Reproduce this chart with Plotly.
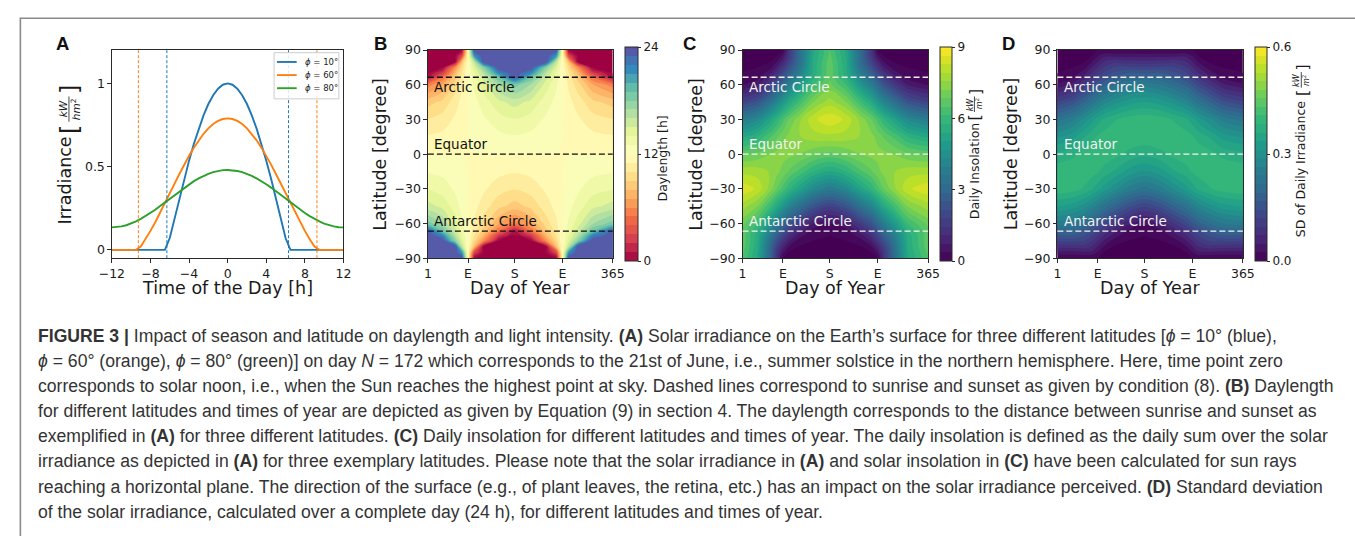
import plotly.graph_objects as go

W, H = 1355, 536

# ---------------- Panel A data ----------------
hours = [-12, -11.5, -11, -10.5, -10, -9.5, -9, -8.5, -8, -7.5, -7, -6.5, -6, -5.5, -5, -4.5,
         -4, -3.5, -3, -2.5, -2, -1.5, -1, -0.5, 0, 0.5, 1, 1.5, 2, 2.5, 3, 3.5, 4, 4.5, 5,
         5.5, 6, 6.5, 7, 7.5, 8, 8.5, 9, 9.5, 10, 10.5, 11, 11.5, 12]
irr_10 = [0, 0, 0, 0, 0, 0, 0, 0, 0, 0, 0, 0,
          0.071, 0.192, 0.311, 0.427, 0.536, 0.637, 0.728, 0.808, 0.876, 0.929, 0.968, 0.992, 1.000,
          0.992, 0.968, 0.929, 0.876, 0.808, 0.728, 0.637, 0.536, 0.427, 0.311, 0.192, 0.071,
          0, 0, 0, 0, 0, 0, 0, 0, 0, 0, 0, 0]
irr_60 = [0, 0, 0, 0, 0, 0,
          0.020, 0.064, 0.114, 0.166, 0.222, 0.280, 0.339, 0.398, 0.456, 0.512, 0.565, 0.614, 0.658,
          0.697, 0.730, 0.756, 0.775, 0.786, 0.790,
          0.786, 0.775, 0.756, 0.730, 0.697, 0.658, 0.614, 0.565, 0.512, 0.456, 0.398, 0.339, 0.280,
          0.222, 0.166, 0.114, 0.064, 0.020,
          0, 0, 0, 0, 0, 0]
irr_80 = [0.135, 0.136, 0.141, 0.148, 0.158, 0.171, 0.186, 0.203, 0.221, 0.241, 0.263, 0.285, 0.308,
          0.330, 0.352, 0.374, 0.394, 0.413, 0.429, 0.444, 0.457, 0.467, 0.474, 0.479, 0.480,
          0.479, 0.474, 0.467, 0.457, 0.444, 0.429, 0.413, 0.394, 0.374, 0.352, 0.330, 0.308,
          0.285, 0.263, 0.241, 0.221, 0.203, 0.186, 0.171, 0.158, 0.148, 0.141, 0.136, 0.135]
sunrise_10 = [-6.3, 6.3]
sunrise_60 = [-9.25, 9.25]
legend_labels = ["<i>ϕ</i> = 10°", "<i>ϕ</i> = 60°", "<i>ϕ</i> = 80°"]
series_colors = ["#1f77b4", "#ff7f0e", "#2ca02c"]

# ---------------- Panels B-D grid ----------------
days = [1, 30, 55, 68, 80, 92, 110, 140, 172, 204, 234, 254, 266, 278, 296, 325, 365]
day_tick_vals = [1, 80, 172, 266, 365]
day_tick_text = ["1", "E", "S", "E", "365"]
lats = [-90, -85, -80, -75, -70, -66.5, -60, -45, -30, -15, 0, 15, 30, 45, 60, 66.5, 70, 75, 80, 85, 90]
lat_ticks = [-90, -60, -30, 0, 30, 60, 90]

daylength = [
    [24, 24, 24, 24, 12, 0, 0, 0, 0, 0, 0, 0, 12, 24, 24, 24, 24],
    [24, 24, 24, 21, 12, 3, 0, 0, 0, 0, 0, 3, 12, 21, 24, 24, 24],
    [24, 24, 24, 15.97, 12, 8.03, 0, 0, 0, 0, 0, 8.03, 12, 15.97, 24, 24, 24],
    [24, 24, 17.83, 14.54, 12, 9.46, 6.17, 0, 0, 0, 6.17, 9.46, 12, 14.54, 17.83, 24, 24],
    [24, 21.48, 16.08, 13.85, 12, 10.15, 7.92, 2.52, 0, 2.52, 7.92, 10.15, 12, 13.85, 16.08, 21.48, 24],
    [23.48, 18.98, 15.36, 13.55, 12, 10.45, 8.64, 5.02, 0.52, 5.02, 8.64, 10.45, 12, 13.55, 15.36, 18.98, 23.48],
    [18.49, 16.88, 14.50, 13.16, 12, 10.84, 9.50, 7.12, 5.51, 7.12, 9.50, 10.84, 12, 13.16, 14.50, 16.88, 18.49],
    [15.43, 14.69, 13.42, 12.67, 12, 11.33, 10.58, 9.31, 8.57, 9.31, 10.58, 11.33, 12, 12.67, 13.42, 14.69, 15.43],
    [13.93, 13.53, 12.82, 12.39, 12, 11.61, 11.18, 10.47, 10.07, 10.47, 11.18, 11.61, 12, 12.39, 12.82, 13.53, 13.93],
    [12.89, 12.71, 12.38, 12.18, 12, 11.82, 11.62, 11.29, 11.11, 11.29, 11.62, 11.82, 12, 12.18, 12.38, 12.71, 12.89],
    [12, 12, 12, 12, 12, 12, 12, 12, 12, 12, 12, 12, 12, 12, 12, 12, 12],
    [11.11, 11.29, 11.62, 11.82, 12, 12.18, 12.38, 12.71, 12.89, 12.71, 12.38, 12.18, 12, 11.82, 11.62, 11.29, 11.11],
    [10.07, 10.47, 11.18, 11.61, 12, 12.39, 12.82, 13.53, 13.93, 13.53, 12.82, 12.39, 12, 11.61, 11.18, 10.47, 10.07],
    [8.57, 9.31, 10.58, 11.33, 12, 12.67, 13.42, 14.69, 15.43, 14.69, 13.42, 12.67, 12, 11.33, 10.58, 9.31, 8.57],
    [5.51, 7.12, 9.50, 10.84, 12, 13.16, 14.50, 16.88, 18.49, 16.88, 14.50, 13.16, 12, 10.84, 9.50, 7.12, 5.51],
    [0.52, 5.02, 8.64, 10.45, 12, 13.55, 15.36, 18.98, 23.48, 18.98, 15.36, 13.55, 12, 10.45, 8.64, 5.02, 0.52],
    [0, 2.52, 7.92, 10.15, 12, 13.85, 16.08, 21.48, 24, 21.48, 16.08, 13.85, 12, 10.15, 7.92, 2.52, 0],
    [0, 0, 6.17, 9.46, 12, 14.54, 17.83, 24, 24, 24, 17.83, 14.54, 12, 9.46, 6.17, 0, 0],
    [0, 0, 0, 8.03, 12, 15.97, 24, 24, 24, 24, 24, 15.97, 12, 8.03, 0, 0, 0],
    [0, 0, 0, 3, 12, 21, 24, 24, 24, 24, 24, 21, 12, 3, 0, 0, 0],
    [0, 0, 0, 0, 12, 24, 24, 24, 24, 24, 24, 24, 12, 0, 0, 0, 0],
]

insolation = [
    [6.49, 5.32, 2.97, 1.42, 0, 0, 0, 0, 0, 0, 0, 0, 0, 1.42, 2.97, 5.32, 6.49],
    [6.57, 5.37, 3.01, 1.46, 0.46, 0, 0, 0, 0, 0, 0, 0, 0.46, 1.46, 3.01, 5.37, 6.57],
    [6.68, 5.47, 3.06, 1.79, 0.94, 0.33, 0, 0, 0, 0, 0, 0.33, 0.94, 1.79, 3.06, 5.47, 6.68],
    [6.74, 5.51, 3.31, 2.25, 1.45, 0.78, 0.23, 0, 0, 0, 0.23, 0.78, 1.45, 2.25, 3.31, 5.51, 6.74],
    [6.74, 5.53, 3.72, 2.75, 1.96, 1.27, 0.64, 0.02, 0, 0.02, 0.64, 1.27, 1.96, 2.75, 3.72, 5.53, 6.74],
    [6.75, 5.72, 4.07, 3.12, 2.35, 1.64, 0.98, 0.20, 0, 0.20, 0.98, 1.64, 2.35, 3.12, 4.07, 5.72, 6.75],
    [6.95, 6.13, 4.67, 3.80, 3.06, 2.35, 1.65, 0.71, 0.33, 0.71, 1.65, 2.35, 3.06, 3.80, 4.67, 6.13, 6.95],
    [7.75, 7.20, 6.12, 5.40, 4.75, 4.10, 3.40, 2.33, 1.80, 2.33, 3.40, 4.10, 4.75, 5.40, 6.12, 7.20, 7.75],
    [8.55, 8.20, 7.40, 6.84, 6.36, 5.83, 5.23, 4.25, 3.72, 4.25, 5.23, 5.83, 6.36, 6.84, 7.40, 8.20, 8.55],
    [7.80, 7.75, 7.52, 7.32, 7.08, 6.80, 6.43, 5.76, 5.36, 5.76, 6.43, 6.80, 7.08, 7.32, 7.52, 7.75, 7.80],
    [6.73, 6.93, 7.21, 7.31, 7.33, 7.31, 7.21, 6.93, 6.73, 6.93, 7.21, 7.31, 7.33, 7.31, 7.21, 6.93, 6.73],
    [5.36, 5.76, 6.43, 6.80, 7.08, 7.32, 7.52, 7.75, 7.80, 7.75, 7.52, 7.32, 7.08, 6.80, 6.43, 5.76, 5.36],
    [3.72, 4.25, 5.23, 5.83, 6.36, 6.84, 7.40, 8.20, 8.55, 8.20, 7.40, 6.84, 6.36, 5.83, 5.23, 4.25, 3.72],
    [1.80, 2.33, 3.40, 4.10, 4.75, 5.40, 6.12, 7.20, 7.75, 7.20, 6.12, 5.40, 4.75, 4.10, 3.40, 2.33, 1.80],
    [0.33, 0.71, 1.65, 2.35, 3.06, 3.80, 4.67, 6.13, 6.95, 6.13, 4.67, 3.80, 3.06, 2.35, 1.65, 0.71, 0.33],
    [0, 0.20, 0.98, 1.64, 2.35, 3.12, 4.07, 5.72, 6.75, 5.72, 4.07, 3.12, 2.35, 1.64, 0.98, 0.20, 0],
    [0, 0.02, 0.64, 1.27, 1.96, 2.75, 3.72, 5.53, 6.74, 5.53, 3.72, 2.75, 1.96, 1.27, 0.64, 0.02, 0],
    [0, 0, 0.23, 0.78, 1.45, 2.25, 3.31, 5.51, 6.74, 5.51, 3.31, 2.25, 1.45, 0.78, 0.23, 0, 0],
    [0, 0, 0, 0.33, 0.94, 1.79, 3.06, 5.47, 6.68, 5.47, 3.06, 1.79, 0.94, 0.33, 0, 0, 0],
    [0, 0, 0, 0, 0.46, 1.46, 3.01, 5.37, 6.57, 5.37, 3.01, 1.46, 0.46, 0, 0, 0, 0],
    [0, 0, 0, 0, 0, 1.42, 2.97, 5.32, 6.49, 5.32, 2.97, 1.42, 0, 0, 0, 0, 0],
]

sd_irradiance = [
    [0, 0, 0, 0, 0, 0, 0, 0, 0, 0, 0, 0, 0, 0, 0, 0, 0],
    [0.039, 0.040, 0.042, 0.042, 0.023, 0, 0, 0, 0, 0, 0, 0, 0.023, 0.042, 0.042, 0.040, 0.039],
    [0.080, 0.082, 0.086, 0.071, 0.048, 0.022, 0, 0, 0, 0, 0, 0.022, 0.048, 0.071, 0.086, 0.082, 0.080],
    [0.123, 0.126, 0.120, 0.097, 0.073, 0.047, 0.018, 0, 0, 0, 0.018, 0.047, 0.073, 0.097, 0.120, 0.126, 0.123],
    [0.167, 0.170, 0.147, 0.123, 0.099, 0.073, 0.044, 0.004, 0, 0.004, 0.044, 0.073, 0.099, 0.123, 0.147, 0.170, 0.167],
    [0.199, 0.195, 0.167, 0.143, 0.119, 0.092, 0.062, 0.018, 0, 0.018, 0.062, 0.092, 0.119, 0.143, 0.167, 0.195, 0.199],
    [0.252, 0.240, 0.210, 0.185, 0.160, 0.134, 0.103, 0.054, 0.029, 0.054, 0.103, 0.134, 0.160, 0.185, 0.210, 0.240, 0.252],
    [0.337, 0.325, 0.299, 0.277, 0.254, 0.229, 0.199, 0.152, 0.124, 0.152, 0.199, 0.229, 0.254, 0.277, 0.299, 0.325, 0.337],
    [0.402, 0.396, 0.379, 0.364, 0.347, 0.326, 0.300, 0.257, 0.231, 0.257, 0.300, 0.326, 0.347, 0.364, 0.379, 0.396, 0.402],
    [0.399, 0.402, 0.401, 0.394, 0.387, 0.375, 0.360, 0.328, 0.310, 0.328, 0.360, 0.375, 0.387, 0.394, 0.401, 0.402, 0.399],
    [0.367, 0.378, 0.394, 0.399, 0.401, 0.399, 0.394, 0.378, 0.367, 0.378, 0.394, 0.399, 0.401, 0.399, 0.394, 0.378, 0.367],
    [0.310, 0.328, 0.360, 0.375, 0.387, 0.394, 0.401, 0.402, 0.399, 0.402, 0.401, 0.394, 0.387, 0.375, 0.360, 0.328, 0.310],
    [0.231, 0.257, 0.300, 0.326, 0.347, 0.364, 0.379, 0.396, 0.402, 0.396, 0.379, 0.364, 0.347, 0.326, 0.300, 0.257, 0.231],
    [0.124, 0.152, 0.199, 0.229, 0.254, 0.277, 0.299, 0.325, 0.337, 0.325, 0.299, 0.277, 0.254, 0.229, 0.199, 0.152, 0.124],
    [0.029, 0.054, 0.103, 0.134, 0.160, 0.185, 0.210, 0.240, 0.252, 0.240, 0.210, 0.185, 0.160, 0.134, 0.103, 0.054, 0.029],
    [0, 0.018, 0.062, 0.092, 0.119, 0.143, 0.167, 0.195, 0.199, 0.195, 0.167, 0.143, 0.119, 0.092, 0.062, 0.018, 0],
    [0, 0.004, 0.044, 0.073, 0.099, 0.123, 0.147, 0.170, 0.167, 0.170, 0.147, 0.123, 0.099, 0.073, 0.044, 0.004, 0],
    [0, 0, 0.018, 0.047, 0.073, 0.097, 0.120, 0.126, 0.123, 0.126, 0.120, 0.097, 0.073, 0.047, 0.018, 0, 0],
    [0, 0, 0, 0.022, 0.048, 0.071, 0.086, 0.082, 0.080, 0.082, 0.086, 0.071, 0.048, 0.022, 0, 0, 0],
    [0, 0, 0, 0, 0.023, 0.042, 0.042, 0.040, 0.039, 0.040, 0.042, 0.042, 0.023, 0, 0, 0, 0],
    [0, 0, 0, 0, 0, 0, 0, 0, 0, 0, 0, 0, 0, 0, 0, 0, 0],
]

circle_lats = [66.56, 0, -66.56]
circle_names = ["Arctic Circle", "Equator", "Antarctic Circle"]
circle_label_lats = [58.5, 8.5, -57.5]

caption_lines = [
    "<b>FIGURE 3 |</b> Impact of season and latitude on daylength and light intensity. <b>(A)</b> Solar irradiance on the Earth’s surface for three different latitudes [<i>ϕ</i> = 10° (blue),",
    "<i>ϕ</i> = 60° (orange), <i>ϕ</i> = 80° (green)] on day <i>N</i> = 172 which corresponds to the 21st of June, i.e., summer solstice in the northern hemisphere. Here, time point zero",
    "corresponds to solar noon, i.e., when the Sun reaches the highest point at sky. Dashed lines correspond to sunrise and sunset as given by condition (8). <b>(B)</b> Daylength",
    "for different latitudes and times of year are depicted as given by Equation (9) in section 4. The daylength corresponds to the distance between sunrise and sunset as",
    "exemplified in <b>(A)</b> for three different latitudes. <b>(C)</b> Daily insolation for different latitudes and times of year. The daily insolation is defined as the daily sum over the solar",
    "irradiance as depicted in <b>(A)</b> for three exemplary latitudes. Please note that the solar irradiance in <b>(A)</b> and solar insolation in <b>(C)</b> have been calculated for sun rays",
    "reaching a horizontal plane. The direction of the surface (e.g., of plant leaves, the retina, etc.) has an impact on the solar irradiance perceived. <b>(D)</b> Standard deviation",
    "of the solar irradiance, calculated over a complete day (24 h), for different latitudes and times of year.",
]

spectral = ["#9e0142", "#d53e4f", "#f46d43", "#fdae61", "#fee08b", "#ffffbf",
            "#e6f598", "#abdda4", "#66c2a5", "#3288bd", "#5e4fa2"]

# ---------------- helpers ----------------
def px(x):
    return x / W


def py(y):
    return 1 - y / H


MPL = "DejaVu Sans"
AX_COLOR = "#2a2a2a"
TXT = "#1a1a1a"

fig = go.Figure()
annotations = []
shapes = []


def ann(x, y, text, size, color=TXT, family=MPL, angle=0, xanchor="center", yanchor="middle"):
    annotations.append(dict(x=px(x), y=py(y), xref="paper", yref="paper", text=text,
                            showarrow=False, textangle=angle, xanchor=xanchor, yanchor=yanchor,
                            font=dict(family=family, size=size, color=color)))


def rot_fraction(cx, cy, num, den, fs, half, bfs):
    # rotated (reading bottom-to-top) bracketed fraction
    ann(cx - fs * 0.55, cy, num, fs, angle=-90)
    ann(cx + fs * 0.6, cy, den, fs, angle=-90)
    shapes.append(dict(type="line", xref="paper", yref="paper",
                       x0=px(cx), x1=px(cx), y0=py(cy - half), y1=py(cy + half),
                       line=dict(color=TXT, width=0.8)))
    ann(cx + 1, cy + half + bfs * 0.32, "[", bfs, angle=-90)
    ann(cx + 1, cy - half - bfs * 0.32, "]", bfs, angle=-90)


# ---------------- Panel A ----------------
for ys, name, col in zip([irr_10, irr_60, irr_80], legend_labels, series_colors):
    fig.add_trace(go.Scatter(x=hours, y=ys, mode="lines", name=name, showlegend=False,
                             line=dict(color=col, width=1.9), xaxis="x", yaxis="y"))

for hx in sunrise_60:
    shapes.append(dict(type="line", xref="x", yref="y domain", x0=hx, x1=hx, y0=0, y1=1,
                       line=dict(color=series_colors[1], width=1, dash="3px,2px")))
for hx in sunrise_10:
    shapes.append(dict(type="line", xref="x", yref="y domain", x0=hx, x1=hx, y0=0, y1=1,
                       line=dict(color=series_colors[0], width=1, dash="3px,2px")))

# manual legend
shapes.append(dict(type="rect", xref="paper", yref="paper", x0=px(266), x1=px(332),
                   y0=py(93.5), y1=py(46), line=dict(color="#cccccc", width=1),
                   fillcolor="rgba(255,255,255,0.85)"))
for i, (lab, col) in enumerate(zip(legend_labels, series_colors)):
    yy = 55.5 + i * 13.5
    shapes.append(dict(type="line", xref="paper", yref="paper", x0=px(269), x1=px(289),
                       y0=py(yy), y1=py(yy), line=dict(color=col, width=1.9)))
    ann(295, yy, lab, 8.5, xanchor="left")

# ---------------- Panels B, C, D ----------------
common_cb = dict(lenmode="pixels", len=214, thickness=12, yanchor="middle", y=py(150.3),
                 xanchor="left", xpad=0, ypad=0, outlinewidth=1, outlinecolor=AX_COLOR,
                 ticks="outside", ticklen=3, tickcolor=AX_COLOR,
                 tickfont=dict(family=MPL, size=12, color=TXT))

fig.add_trace(go.Contour(
    x=days, y=lats, z=daylength, xaxis="x2", yaxis="y2", colorscale=spectral,
    zmin=0, zmax=24, autocontour=False,
    contours=dict(start=0, end=24, size=1, coloring="fill", showlines=False),
    line=dict(width=0), hoverinfo="skip",
    colorbar=dict(common_cb, x=px(623), thickness=13, tickvals=[0, 12, 24])))

fig.add_trace(go.Contour(
    x=days, y=lats, z=insolation, xaxis="x3", yaxis="y3", colorscale="Viridis",
    zmin=0, zmax=9, autocontour=False,
    contours=dict(start=0, end=9, size=0.36, coloring="fill", showlines=False),
    line=dict(width=0), hoverinfo="skip",
    colorbar=dict(common_cb, x=px(944), tickvals=[0, 3, 6, 9])))

fig.add_trace(go.Contour(
    x=days, y=lats, z=sd_irradiance, xaxis="x4", yaxis="y4", colorscale="Viridis",
    zmin=0, zmax=0.6, autocontour=False,
    contours=dict(start=0, end=0.6, size=0.024, coloring="fill", showlines=False),
    line=dict(width=0), hoverinfo="skip",
    colorbar=dict(common_cb, x=px(1265.5), tickvals=[0, 0.3, 0.6], tickformat=".1f")))

# circles
for ax, col in [("2", "#111111"), ("3", "#f2f2f2"), ("4", "#f2f2f2")]:
    for lat in circle_lats:
        shapes.append(dict(type="line", xref=f"x{ax} domain", yref=f"y{ax}", x0=0, x1=1,
                           y0=lat, y1=lat, line=dict(color=col, width=1.4, dash="6px,3px")))
    for name, ly in zip(circle_names, circle_label_lats):
        annotations.append(dict(x=10, y=ly, xref=f"x{ax}", yref=f"y{ax}", text=name,
                                showarrow=False, xanchor="left", yanchor="middle",
                                font=dict(family=MPL, size=13.5, color=col)))

# ---------------- axes ----------------
y_dom = [py(257.4), py(43.3)]
axis_common = dict(showgrid=False, zeroline=False, showline=True, mirror=True,
                   linecolor=AX_COLOR, linewidth=1, ticks="outside", ticklen=3.5,
                   tickcolor=AX_COLOR, tickfont=dict(family=MPL, size=12.5, color=TXT))

layout_axes = dict(
    xaxis=dict(axis_common, domain=[px(100.7), px(336.7)], range=[-12, 12],
               tickvals=[-12, -8, -4, 0, 4, 8, 12], anchor="y"),
    yaxis=dict(axis_common, domain=y_dom, range=[-0.05, 1.2], tickvals=[0, 0.5, 1],
               ticktext=["0", "0.5", "1"], anchor="x"),
)
for i, (x0, x1) in zip(["2", "3", "4"], [(422.7, 611), (743.3, 932.3), (1064, 1253)]):
    layout_axes[f"xaxis{i}"] = dict(axis_common, domain=[px(x0), px(x1)], range=[1, 365],
                                    tickvals=day_tick_vals, ticktext=day_tick_text,
                                    anchor=f"y{i}")
    layout_axes[f"yaxis{i}"] = dict(axis_common, domain=y_dom, range=[-90, 90],
                                    tickvals=lat_ticks, anchor=f"x{i}")

# ---------------- titles & labels ----------------
TS = 17.5
ann(218.7, 288.5, "Time of the Day [h]", TS)
for cx in [516.9, 837.8, 1158.5]:
    ann(cx, 288.5, "Day of Year", TS)
for cx in [373.5, 695.5, 1017]:
    ann(cx, 150.3, "Latitude [degree]", TS, angle=-90)

ann(53.5, 178, "Irradiance", TS, angle=-90)
rot_fraction(57, 104, "<i>kW</i>", "<i>hm</i><sup>2</sup>", 10.5, 13, 24)

ann(662, 155, "Daylength [h]", 12.5, angle=-90)
ann(979, 168, "Daily Insolation", 12.5, angle=-90)
rot_fraction(979.5, 99, "<i>kW</i>", "<i>m</i><sup>2</sup>", 8, 8, 16)
ann(1312, 166, "SD of Daily Irradiance", 12.5, angle=-90)
rot_fraction(1312.5, 74, "<i>kW</i>", "<i>m</i><sup>2</sup>", 8, 8, 16)

for lab, x in zip(["A", "B", "C", "D"], [50.5, 374, 689, 1014]):
    ann(x, 36.5, f"<b>{lab}</b>", 18.5, color="#111111", family="Liberation Sans")

# caption
for i, line in enumerate(caption_lines):
    ann(23.5, 337 + i * 25.9, line, 17.6, color="#333333", family="Liberation Sans",
        xanchor="left")

# frame
shapes.append(dict(type="rect", xref="paper", yref="paper", x0=px(7.5), x1=1.05,
                   y0=-0.05, y1=py(10.5), line=dict(color="#8a8a8a", width=1.6)))

fig.update_layout(
    width=W, height=H, margin=dict(l=0, r=0, t=0, b=0),
    paper_bgcolor="white", plot_bgcolor="white", showlegend=False,
    annotations=annotations, shapes=shapes, **layout_axes)

fig.write_html("out.html", config={"displayModeBar": False},
               post_script="document.body.style.margin='0px';")
